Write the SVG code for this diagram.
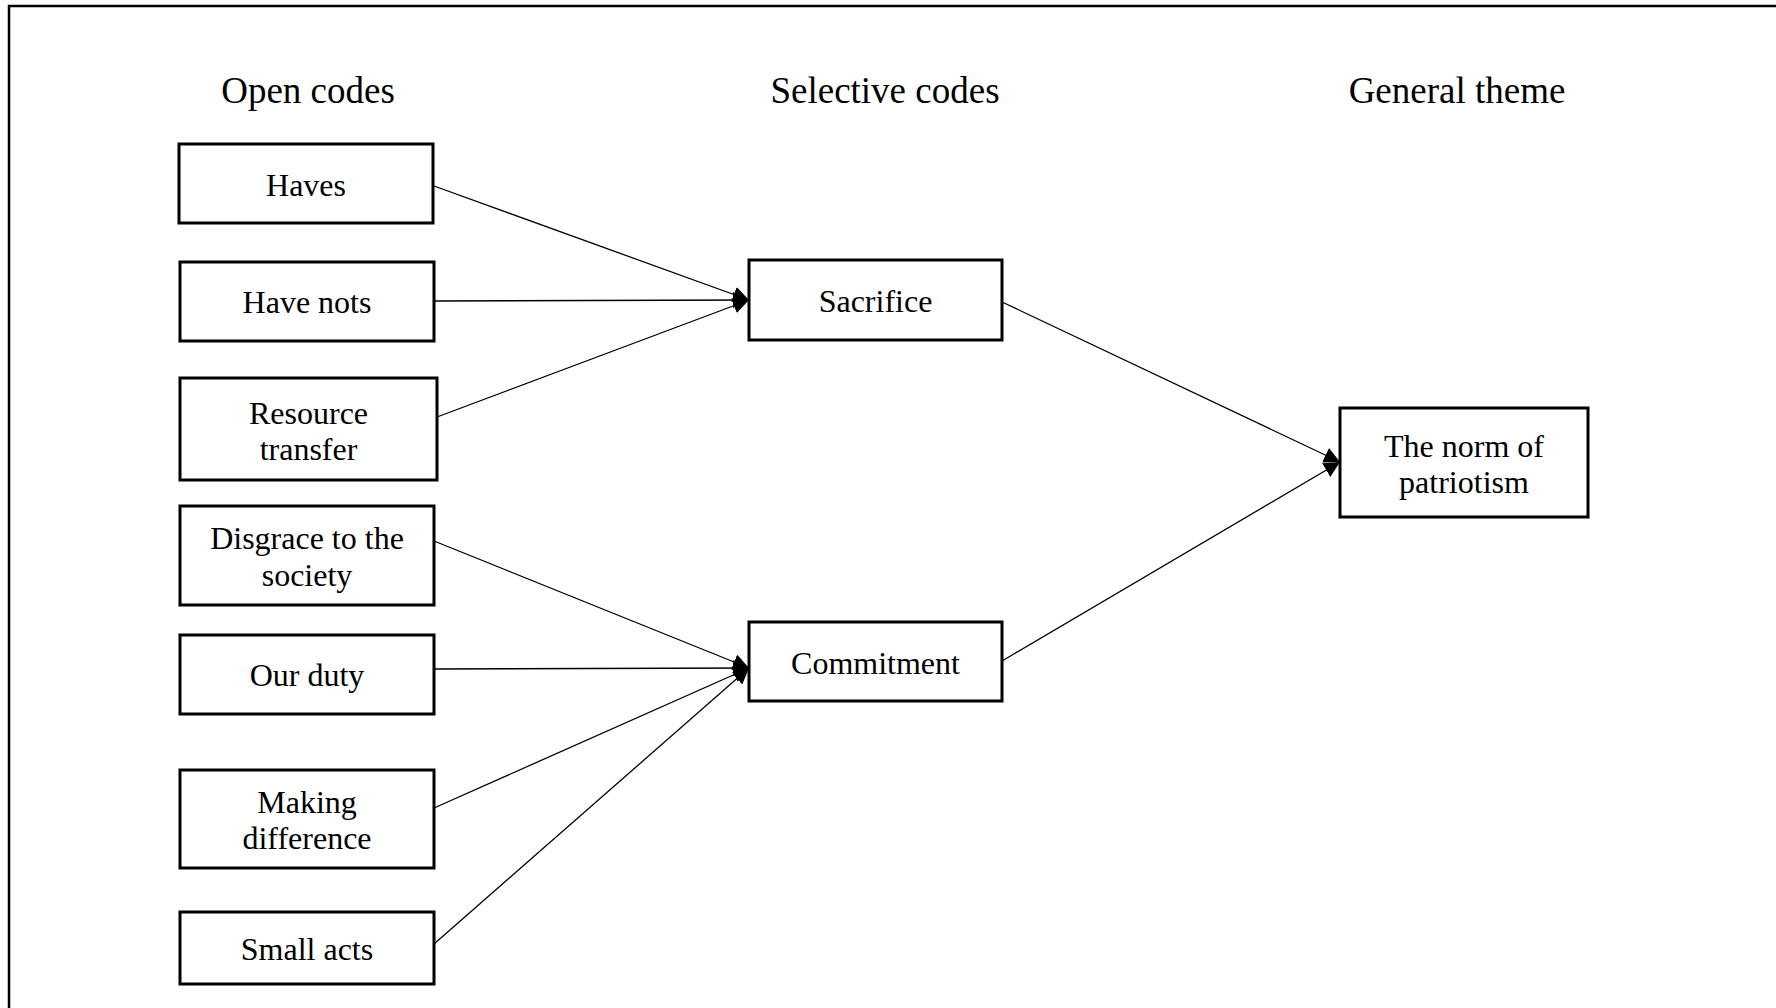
<svg xmlns="http://www.w3.org/2000/svg" width="1776" height="1008" viewBox="0 0 1776 1008">
<style>
.box{fill:#fff;stroke:#000;stroke-width:3}
.lbl{font-family:"Liberation Serif","Times New Roman",serif;font-size:32px;fill:#000;text-anchor:middle}
.hdr{font-family:"Liberation Serif","Times New Roman",serif;font-size:37px;fill:#000;text-anchor:middle}
.conn{stroke:#000;stroke-width:1.3;fill:none;marker-end:url(#arr)}
</style>
<defs>
<marker id="arr" markerUnits="userSpaceOnUse" markerWidth="17" markerHeight="16" refX="16" refY="8" orient="auto">
<path d="M0,0 L16,8 L0,16 Z" fill="#000"/>
</marker>
</defs>
<rect x="0" y="0" width="1776" height="1008" fill="#fff"/>
<rect x="9" y="6" width="1800" height="1100" fill="none" stroke="#000" stroke-width="2.5"/>
<g id="headers">
<text class="hdr" x="308" y="103">Open codes</text>
<text class="hdr" x="885" y="103">Selective codes</text>
<text class="hdr" x="1457" y="103">General theme</text>
</g>
<g id="connectors">
<line class="conn" x1="434" y1="186" x2="749" y2="300"/>
<line class="conn" x1="434" y1="301" x2="749" y2="300"/>
<line class="conn" x1="437" y1="417" x2="749" y2="300"/>
<line class="conn" x1="434" y1="541" x2="749" y2="668"/>
<line class="conn" x1="434" y1="669" x2="749" y2="668"/>
<line class="conn" x1="434" y1="808" x2="749" y2="668"/>
<line class="conn" x1="434" y1="944" x2="749" y2="668"/>
<line class="conn" x1="1002" y1="302" x2="1340" y2="462"/>
<line class="conn" x1="1002" y1="661" x2="1340" y2="462"/>
</g>
<g id="haves"><rect class="box" x="179" y="144" width="254" height="79"/><text class="lbl" x="306" y="196">Haves</text></g>
<g id="have-nots"><rect class="box" x="180" y="262" width="254" height="79"/><text class="lbl" x="307" y="313">Have nots</text></g>
<g id="resource-transfer"><rect class="box" x="180" y="378" width="257" height="102"/><text class="lbl" x="308.5" y="424">Resource</text><text class="lbl" x="308.5" y="460">transfer</text></g>
<g id="disgrace"><rect class="box" x="180" y="506" width="254" height="99"/><text class="lbl" x="307" y="549">Disgrace to the</text><text class="lbl" x="307" y="586">society</text></g>
<g id="our-duty"><rect class="box" x="180" y="635" width="254" height="79"/><text class="lbl" x="307" y="686">Our duty</text></g>
<g id="making-difference"><rect class="box" x="180" y="770" width="254" height="98"/><text class="lbl" x="307" y="813">Making</text><text class="lbl" x="307" y="849">difference</text></g>
<g id="small-acts"><rect class="box" x="180" y="912" width="254" height="72"/><text class="lbl" x="307" y="960">Small acts</text></g>
<g id="sacrifice"><rect class="box" x="749" y="260" width="253" height="80"/><text class="lbl" x="875.5" y="312">Sacrifice</text></g>
<g id="commitment"><rect class="box" x="749" y="622" width="253" height="79"/><text class="lbl" x="875.5" y="674">Commitment</text></g>
<g id="norm"><rect class="box" x="1340" y="408" width="248" height="109"/><text class="lbl" x="1464" y="457">The norm of</text><text class="lbl" x="1464" y="493">patriotism</text></g>
</svg>
